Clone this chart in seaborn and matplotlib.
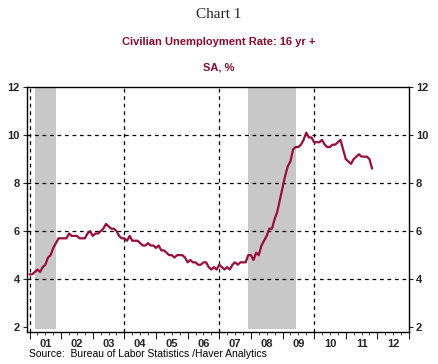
import numpy as np
import pandas as pd
import matplotlib
matplotlib.use("Agg")
import matplotlib.pyplot as plt
import seaborn as sns

# --- data ---
START_YEAR = 2001
rate_2001 = [4.2, 4.2, 4.3, 4.4, 4.3, 4.5, 4.6, 4.9, 5.0, 5.3, 5.5, 5.7]
rate_2002 = [5.7, 5.7, 5.7, 5.9, 5.8, 5.8, 5.8, 5.7, 5.7, 5.7, 5.9, 6.0]
rate_2003 = [5.8, 5.9, 5.9, 6.0, 6.1, 6.3, 6.2, 6.1, 6.1, 6.0, 5.8, 5.7]
rate_2004 = [5.7, 5.6, 5.8, 5.6, 5.6, 5.6, 5.5, 5.4, 5.4, 5.5, 5.4, 5.4]
rate_2005 = [5.3, 5.4, 5.2, 5.2, 5.1, 5.0, 5.0, 4.9, 5.0, 5.0, 5.0, 4.9]
rate_2006 = [4.7, 4.8, 4.7, 4.7, 4.6, 4.6, 4.7, 4.7, 4.5, 4.4, 4.5, 4.4]
rate_2007 = [4.6, 4.5, 4.4, 4.5, 4.4, 4.6, 4.7, 4.6, 4.7, 4.7, 4.7, 5.0]
rate_2008 = [5.0, 4.8, 5.1, 5.0, 5.4, 5.6, 5.8, 6.1, 6.1, 6.5, 6.8, 7.3]
rate_2009 = [7.8, 8.3, 8.7, 8.9, 9.4, 9.5, 9.5, 9.6, 9.8, 10.1, 9.9, 9.9]
rate_2010 = [9.7, 9.7, 9.7, 9.8, 9.6, 9.5, 9.5, 9.6, 9.6, 9.7, 9.8, 9.4]
rate_2011 = [9.0, 8.9, 8.8, 9.0, 9.1, 9.2, 9.1, 9.1, 9.1, 9.0, 8.6]

# recessions (decimal years: start, end)
recessions = [(2001.17, 2001.84), (2007.92, 2009.42)]
year_labels = ['01', '02', '03', '04', '05', '06', '07', '08', '09', '10', '11', '12']
y_ticks = [2, 4, 6, 8, 10, 12]
h_grid = [4, 6, 8, 10]
v_grid = [2001, 2004, 2007, 2010]

LINE_COLOR = '#9a0c3a'
TITLE_RED = '#8a0b2c'

values = (rate_2001 + rate_2002 + rate_2003 + rate_2004 + rate_2005 + rate_2006
          + rate_2007 + rate_2008 + rate_2009 + rate_2010 + rate_2011)
df = pd.DataFrame({'year': START_YEAR + np.arange(len(values)) / 12.0,
                   'rate': values})

sns.set_style('white')
plt.rcParams['font.family'] = ['Liberation Sans', 'DejaVu Sans']

fig = plt.figure(figsize=(4.38, 3.64), dpi=100)
ax = fig.add_axes([27 / 438, 1 - 332 / 364, 382 / 438, 245 / 364])

for start, end in recessions:
    ax.axvspan(start, end, ymin=0.012, ymax=1, color='#c8c8c8', lw=0, zorder=0)
for y in h_grid:
    ax.axhline(y, color='black', lw=0.9, ls=(0, (3, 3)), zorder=1)
for x in v_grid:
    ax.axvline(x, color='black', lw=0.9, ls=(0, (3, 3)), zorder=1)

sns.lineplot(data=df, x='year', y='rate', color=LINE_COLOR, lw=1.6, ax=ax, zorder=3)

ax.set_xlim(2000.92, 2012.97)
ax.set_ylim(1.8, 12)
ax.set_xlabel('')
ax.set_ylabel('')

# y axis both sides
ax.set_yticks(y_ticks)
ax.set_yticklabels([str(t) for t in y_ticks])
ax.tick_params(axis='y', left=True, right=True, labelleft=True, labelright=True,
               length=3, width=0.8, pad=2, labelsize=8, direction='out')
for lab in ax.get_yticklabels() + ax.get_yticklabels(which='both'):
    lab.set_fontweight('bold')
for lab in ax.yaxis.get_ticklabels(which='major'):
    lab.set_fontweight('bold')
for t in ax.yaxis.get_major_ticks():
    t.label2.set_fontweight('bold')

# x axis: year boundaries (major) and quarters (minor)
years = list(range(2001, 2014))
ax.set_xticks(years)
ax.set_xticklabels([])
ax.set_xticks([y + q / 4 for y in years[:-1] for q in (1, 2, 3)], minor=True)
ax.tick_params(axis='x', which='major', bottom=True, length=5, width=0.8, direction='out')
ax.tick_params(axis='x', which='minor', bottom=True, length=2.5, width=0.6, direction='out')

sec = ax.secondary_xaxis('bottom')
sec.set_xticks([y + 0.5 for y in years[:-1]])
sec.set_xticklabels(year_labels)
sec.tick_params(length=0, pad=5, labelsize=8)
for lab in sec.get_xticklabels():
    lab.set_fontweight('bold')
sec.spines['bottom'].set_visible(False)

for sp in ax.spines.values():
    sp.set_visible(True)
    sp.set_color('black')
    sp.set_linewidth(1.0)

fig.text(0.5, 1 - 14 / 364, 'Chart 1', ha='center', va='center',
         family='Liberation Serif', fontsize=11, color='#222222')
fig.text(0.5, 1 - 42 / 364, 'Civilian Unemployment Rate: 16 yr +', ha='center',
         va='center', fontsize=8, fontweight='bold', color=TITLE_RED)
fig.text(0.5, 1 - 67 / 364, 'SA, %', ha='center', va='center',
         fontsize=8, fontweight='bold', color=TITLE_RED)
fig.text(29 / 438, 1 - 354 / 364, 'Source:  Bureau of Labor Statistics /Haver Analytics',
         ha='left', va='center', fontsize=7.5, color='black')

fig.savefig('out.png', dpi=100, facecolor='white')
